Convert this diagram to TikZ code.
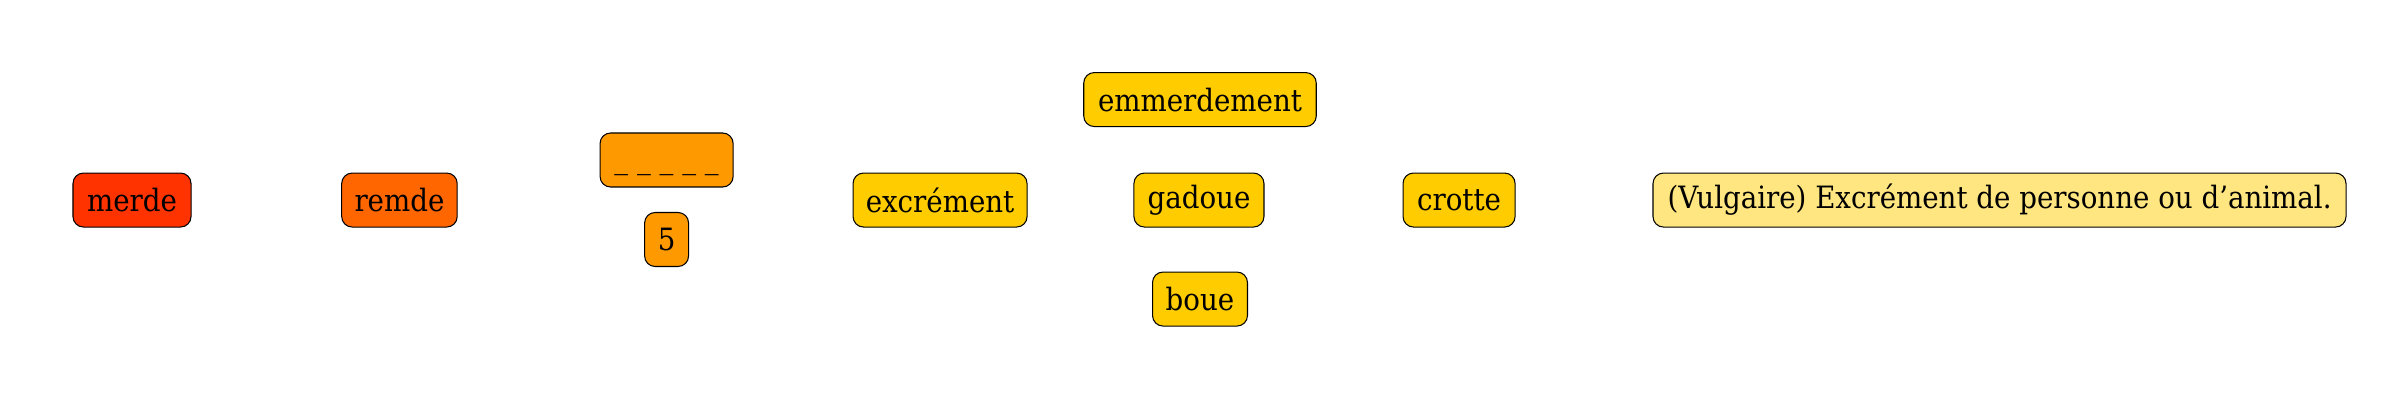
\documentclass[tikz,border=0pt]{standalone}
\usepackage{fontspec}
\setmainfont{DejaVu Serif Condensed}
\definecolor{cA}{RGB}{255,51,0}
\definecolor{cB}{RGB}{255,102,0}
\definecolor{cC}{RGB}{255,153,0}
\definecolor{cD}{RGB}{255,204,0}
\definecolor{cE}{RGB}{255,230,128}
\begin{document}
\begin{tikzpicture}[x=1pt,y=1pt,
  wbox/.style={draw=black, line width=0.7pt, rounded corners=7pt, minimum height=36pt, inner xsep=0pt, inner ysep=0pt, font=\fontsize{20.5}{24}\selectfont, anchor=center}]
\useasboundingbox (0,0) rectangle (1600,266.67);
\node[wbox, fill=cA, minimum width=78.7pt] (merde) at (88,133.3) {merde};
\node[wbox, fill=cB, minimum width=77pt] (remde) at (266.3,133.3) {remde};
\node[wbox, fill=cC, minimum width=88.7pt, text height=0pt, text depth=0pt] (blank) at (444.4,160) {\raisebox{-6pt}{\_ \_ \_ \_ \_}};
\node[wbox, fill=cC, minimum width=29.3pt] (five) at (444.4,107) {5};
\node[wbox, fill=cD, minimum width=116pt] (excr) at (626.7,133.3) {excrément};
\node[wbox, fill=cD, minimum width=155pt] (emm) at (800,200.3) {emmerdement};
\node[wbox, fill=cD, minimum width=86.7pt] (gad) at (799.3,133.3) {gadoue};
\node[wbox, fill=cD, minimum width=63.3pt] (boue) at (800,67.3) {boue};
\node[wbox, fill=cD, minimum width=74.7pt] (crotte) at (972.7,133.3) {crotte};
\node[wbox, fill=cE, minimum width=462pt] (def) at (1333,133.3) {(Vulgaire) Excrément de personne ou d’animal.};
\end{tikzpicture}
\end{document}
